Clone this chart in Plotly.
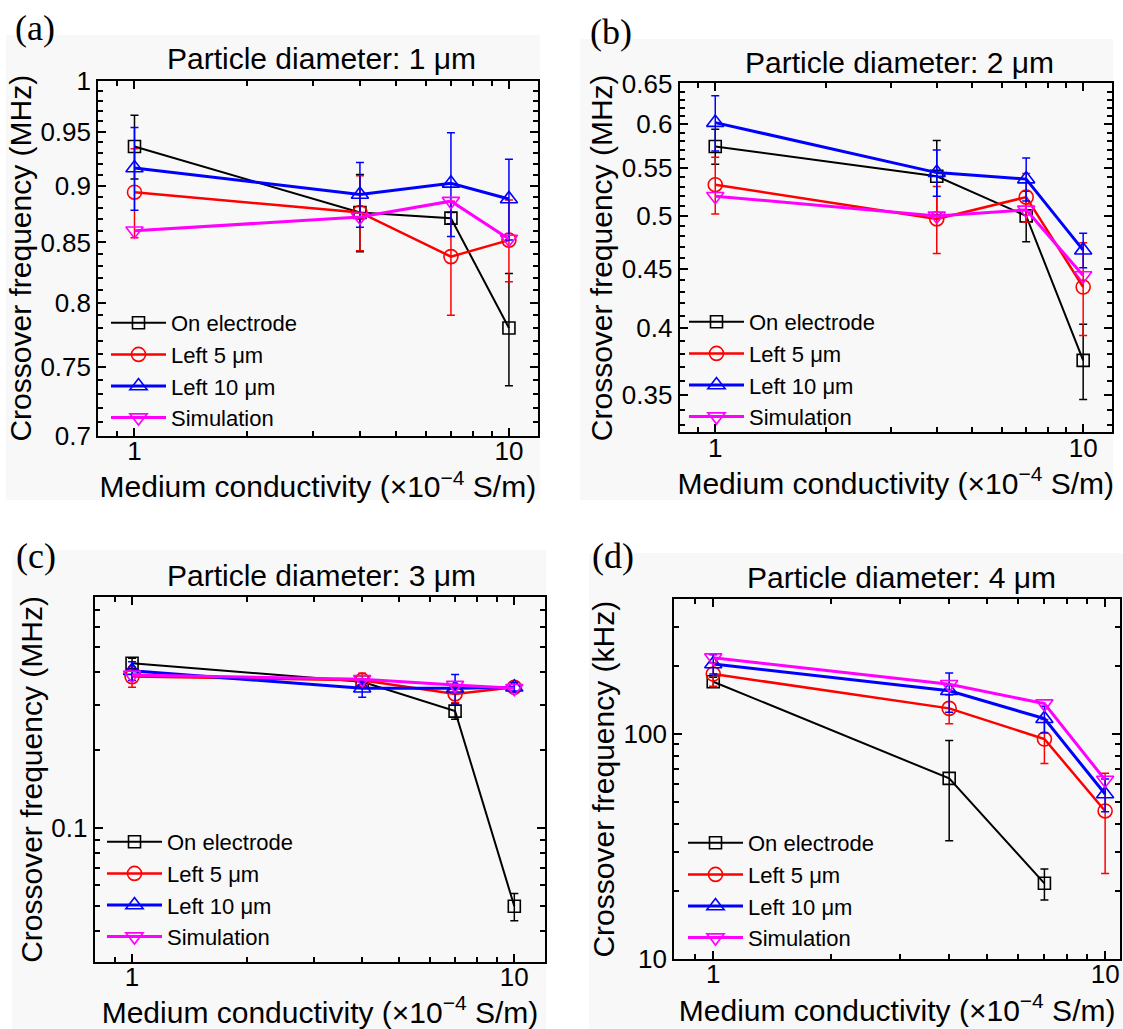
import math
import plotly.graph_objects as go

W, H = 1123, 1029

# ---------------- data ----------------
x_cond = [1, 4, 7, 10]  # medium conductivity (x10^-4 S/m)
series_names = ["On electrode", "Left 5 μm", "Left 10 μm", "Simulation"]

# (a) particle diameter 1 um, crossover frequency (MHz)
a_on = [0.936, 0.876, 0.871, 0.780]
a_on_err = [0.030, 0.034, 0.005, 0.044]
a_l5 = [0.894, 0.876, 0.838, 0.852]
a_l5_err = [0.040, 0.033, 0.048, 0.035]
a_l10 = [0.916, 0.892, 0.902, 0.888]
a_l10_err = [0.038, 0.029, 0.047, 0.036]
a_sim = [0.860, 0.872, 0.886, 0.853]

# (b) particle diameter 2 um (MHz)
b_on = [0.574, 0.541, 0.500, 0.375]
b_on_err = [0.020, 0.040, 0.025, 0.028]
b_l5 = [0.532, 0.497, 0.519, 0.434]
b_l5_err = [0.030, 0.033, 0.025, 0.040]
b_l10 = [0.602, 0.545, 0.538, 0.467]
b_l10_err = [0.033, 0.025, 0.023, 0.016]
b_sim = [0.520, 0.500, 0.506, 0.444]

# (c) particle diameter 3 um (MHz)
c_on = [0.434, 0.368, 0.283, 0.0497]
c_on_err = [0.020, 0.010, 0.020, 0.006]
c_l5 = [0.385, 0.373, 0.330, 0.350]
c_l5_err = [0.035, 0.024, 0.025, 0.015]
c_l10 = [0.406, 0.347, 0.347, 0.350]
c_l10_err = [0.034, 0.027, 0.045, 0.015]
c_sim = [0.391, 0.376, 0.357, 0.347]

# (d) particle diameter 4 um (kHz)
d_on = [170.8, 63.5, 21.7, None]
d_on_err = [8, 30, 3.4, None]
d_l5 = [184.8, 130.0, 95.0, 45.5]
d_l5_err = [22, 19, 21, 21.5]
d_l10 = [204.8, 155.8, 117.0, 54.1]
d_l10_err = [20, 31, 16, 9]
d_sim = [218.5, 166.3, 136.5, 62.5]

panel_titles = ["Particle diameter: 1 μm", "Particle diameter: 2 μm",
                "Particle diameter: 3 μm", "Particle diameter: 4 μm"]
panel_tags = ["(a)", "(b)", "(c)", "(d)"]
y_titles = ["Crossover frequency (MHz)", "Crossover frequency (MHz)",
            "Crossover frequency (MHz)", "Crossover frequency (kHz)"]
x_title = "Medium conductivity (×10<sup>−4</sup> S/m)"

a_yticks = [0.7, 0.75, 0.8, 0.85, 0.9, 0.95, 1]
a_yticktext = ["0.7", "0.75", "0.8", "0.85", "0.9", "0.95", "1"]
b_yticks = [0.35, 0.4, 0.45, 0.5, 0.55, 0.6, 0.65]
b_yticktext = ["0.35", "0.4", "0.45", "0.5", "0.55", "0.6", "0.65"]
c_yticks = [0.1]
c_yticktext = ["0.1"]
d_yticks = [10, 100]
d_yticktext = ["10", "100"]
x_ticks = [1, 10]
x_ticktext = ["1", "10"]
x_minor = [0.9, 2, 3, 4, 5, 6, 7, 8, 9]
a_yminor = [round(0.70 + 0.01 * i, 2) for i in range(31)]
b_yminor = [round(0.32 + 0.01 * i, 2) for i in range(34)]
c_yminor = [0.04, 0.05, 0.06, 0.07, 0.08, 0.09, 0.2, 0.3, 0.4, 0.5, 0.6, 0.7]
d_yminor = [20, 30, 40, 50, 60, 70, 80, 90, 200, 300]

colors = ["#000000", "#ff0000", "#0000ff", "#ff00ff"]
symbols = ["square-open", "circle-open", "triangle-up-open", "triangle-down-open"]
msizes = [12, 14, 15, 15]
lwidths = [2, 2.5, 3, 3]

panels = [
    dict(series=[(a_on, a_on_err), (a_l5, a_l5_err), (a_l10, a_l10_err), (a_sim, None)],
         box=(98.2, 80.7, 537.5, 435.7), xr=(0.8, 11.92), yr=(0.7, 1.0),
         yt=(a_yticks, a_yticktext), ym=a_yminor,
         bg=(6, 35, 540, 500), tag=(35, 28), title=(321, 58),
         leg=(106, 302)),
    dict(series=[(b_on, b_on_err), (b_l5, b_l5_err), (b_l10, b_l10_err), (b_sim, None)],
         box=(679.6, 83.3, 1111.9, 432.3), xr=(0.8, 11.97), yr=(0.325, 0.651),
         yt=(b_yticks, b_yticktext), ym=b_yminor,
         bg=(580, 39, 1113, 500), tag=(611, 32), title=(899, 62),
         leg=(684, 301)),
    dict(series=[(c_on, c_on_err), (c_l5, c_l5_err), (c_l10, c_l10_err), (c_sim, None)],
         box=(94.6, 597.3, 545.4, 961.7), xr=(0.798, 12.06), yr=(0.0303, 0.781),
         yt=(c_yticks, c_yticktext), ym=c_yminor,
         bg=(12, 550, 546, 1029), tag=(36, 556), title=(321, 575),
         leg=(102, 821)),
    dict(series=[(d_on, d_on_err), (d_l5, d_l5_err), (d_l10, d_l10_err), (d_sim, None)],
         box=(674.2, 599.3, 1120.1, 959.0), xr=(0.795, 10.92), yr=(10, 397),
         yt=(d_yticks, d_yticktext), ym=d_yminor,
         bg=(589, 553, 1123, 1029), tag=(613, 556), title=(901, 577),
         leg=(683, 822)),
]

FONT = "Liberation Sans, Arial, sans-serif"
BG = "#f8f8f8"

fig = go.Figure()
layout = dict(width=W, height=H, margin=dict(l=0, r=0, t=0, b=0),
              paper_bgcolor="white", plot_bgcolor=BG, showlegend=True,
              font=dict(family=FONT, color="black"))
shapes, annotations = [], []

for i, p in enumerate(panels):
    n = "" if i == 0 else str(i + 1)
    xa, ya = "x" + n, "y" + n
    legname = "legend" + n
    for k, (vals, errs) in enumerate(p["series"]):
        tr = dict(x=x_cond, y=vals, name=series_names[k], mode="lines+markers",
                  xaxis=xa, yaxis=ya, legend=legname,
                  line=dict(color=colors[k], width=lwidths[k]),
                  marker=dict(symbol=symbols[k], size=msizes[k], color=colors[k],
                              line=dict(width=1.6, color=colors[k])),
                  connectgaps=False)
        if errs is not None:
            tr["error_y"] = dict(type="data", array=errs, visible=True,
                                 color=colors[k], thickness=1.5, width=4)
        fig.add_trace(go.Scatter(**tr))

    l, t, r, b = p["box"]
    dx = [l / W, r / W]
    dy = [1 - b / H, 1 - t / H]
    common = dict(type="log", showline=True, linewidth=2, linecolor="black",
                  mirror="ticks", ticks="inside", ticklen=8, tickwidth=1.5,
                  tickcolor="black", showgrid=False, zeroline=False,
                  tickfont=dict(size=26, family=FONT, color="black"),
                  automargin=False, tickmode="array")
    layout["xaxis" + n] = dict(common, domain=dx, anchor=ya,
                               range=[math.log10(p["xr"][0]), math.log10(p["xr"][1])],
                               tickvals=x_ticks, ticktext=x_ticktext,
                               ticklabelstandoff=-9,
                               minor=dict(tickmode="array", tickvals=x_minor, ticklen=5,
                                          tickwidth=1.5, ticks="inside", showgrid=False),
                               title=dict(text=x_title, font=dict(size=30, family=FONT),
                                          standoff=3))
    layout["yaxis" + n] = dict(common, domain=dy, anchor=xa,
                               range=[math.log10(p["yr"][0]), math.log10(p["yr"][1])],
                               tickvals=p["yt"][0], ticktext=p["yt"][1],
                               ticklabelstandoff=0,
                               minor=dict(tickmode="array", tickvals=p["ym"], ticklen=5,
                                          tickwidth=1.5, ticks="inside", showgrid=False),
                               title=dict(text=y_titles[i], font=dict(size=30, family=FONT),
                                          standoff=0))
    lx, ly = p["leg"]
    layout[legname] = dict(x=lx / W, y=1 - ly / H, xanchor="left", yanchor="top",
                           bgcolor="rgba(0,0,0,0)", borderwidth=0,
                           font=dict(size=22, family=FONT, color="black"),
                           itemwidth=55, tracegroupgap=0)
    bx0, by0, bx1, by1 = p["bg"]
    shapes.append(dict(type="rect", xref="paper", yref="paper", layer="below",
                       x0=bx0 / W, x1=bx1 / W, y0=1 - by1 / H, y1=1 - by0 / H,
                       fillcolor=BG, line=dict(width=0)))
    annotations.append(dict(text=panel_tags[i], xref="paper", yref="paper",
                            x=p["tag"][0] / W, y=1 - p["tag"][1] / H,
                            xanchor="center", yanchor="middle", showarrow=False,
                            font=dict(size=36, family="Liberation Serif, Times New Roman, serif",
                                      color="black")))
    annotations.append(dict(text=panel_titles[i], xref="paper", yref="paper",
                            x=p["title"][0] / W, y=1 - p["title"][1] / H,
                            xanchor="center", yanchor="middle", showarrow=False,
                            font=dict(size=30, family=FONT, color="black")))

layout["shapes"] = shapes
layout["annotations"] = annotations
fig.update_layout(**layout)
fig.write_html("out.html")
